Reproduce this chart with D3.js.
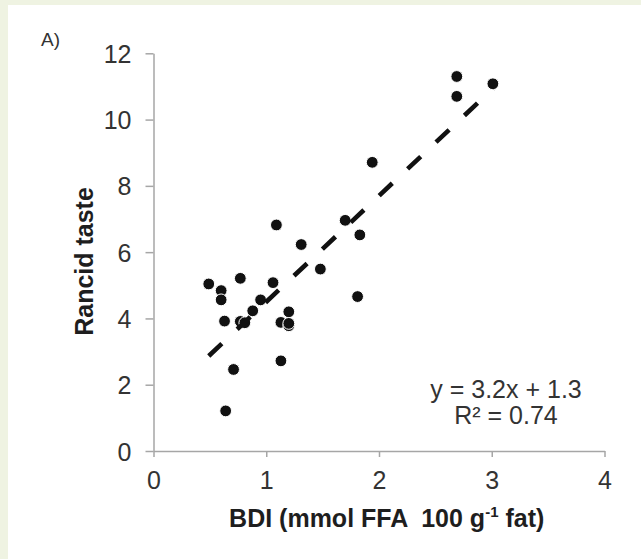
<!DOCTYPE html>
<html>
<head>
<meta charset="utf-8">
<script src="https://cdn.jsdelivr.net/npm/d3@7"></script>
<style>
  html, body { margin: 0; padding: 0; background: #eff3e2; }
  svg { display: block; }
  text { font-family: "Liberation Sans", Arial, sans-serif; }
</style>
</head>
<body>
<svg id="chart" width="641" height="559"></svg>
<script>
// ---- data ----
const bdi = [0.49, 0.60, 0.60, 0.63, 0.77, 0.77, 0.81, 0.88, 0.95, 1.06, 1.09, 1.13, 1.20, 1.20, 1.20, 1.13, 0.71, 0.64, 1.31, 1.48, 1.70, 1.83, 1.81, 1.94, 2.69, 2.69, 3.01];
const rancid = [5.04, 4.84, 4.56, 3.92, 5.21, 3.91, 3.87, 4.23, 4.56, 5.08, 6.82, 3.88, 4.20, 3.78, 3.85, 2.72, 2.46, 1.21, 6.23, 5.49, 6.96, 6.52, 4.66, 8.71, 11.30, 10.70, 11.08];
const xTicks = [0, 1, 2, 3, 4];
const yTicks = [0, 2, 4, 6, 8, 10, 12];
const slope = 3.2, intercept = 1.3;
const eqLines = ["y = 3.2x + 1.3", "R² = 0.74"];
const panelLabel = "A)";
const yTitle = "Rancid taste";

const svg = d3.select("#chart");
svg.append("rect").attr("x", 8).attr("y", 5).attr("width", 641 - 8).attr("height", 559 - 5).attr("fill", "#ffffff");

const x = d3.scaleLinear().domain([0, 4]).range([153.5, 604.5]);
const y = d3.scaleLinear().domain([0, 12]).range([451, 53.3]);

const axisColor = "#a6a6a6";
const textColor = "#333333";

// x axis
const gx = svg.append("g").attr("transform", `translate(0,${y(0)})`)
  .call(d3.axisBottom(x).tickValues(xTicks).tickSize(6).tickSizeOuter(0).tickFormat(d3.format("d")).tickPadding(14));
// y axis
const gy = svg.append("g").attr("transform", `translate(${x(0)},0)`)
  .call(d3.axisLeft(y).tickValues(yTicks).tickSize(8).tickSizeOuter(0).tickFormat(d3.format("d")).tickPadding(14));
[gx, gy].forEach(g => {
  g.select(".domain").attr("stroke", axisColor).attr("stroke-width", 1.5);
  g.selectAll(".tick line").attr("stroke", axisColor).attr("stroke-width", 1.5);
  g.selectAll(".tick text").attr("fill", textColor).attr("font-size", 25)
    .attr("font-family", "'Liberation Sans', Arial, sans-serif");
});
gx.selectAll(".tick text").attr("dy", "0.71em");
gy.selectAll(".tick text").attr("dy", "0.36em");

// points
svg.append("g").selectAll("circle").data(bdi.map((d, i) => [d, rancid[i]]))
  .join("circle")
  .attr("cx", d => x(d[0])).attr("cy", d => y(d[1]))
  .attr("r", 5.9).attr("fill", "#111").attr("stroke", "#fff").attr("stroke-width", 1);

// trend line
const xMin = d3.min(bdi), xMax = d3.max(bdi);
svg.append("line")
  .attr("x1", x(xMin)).attr("y1", y(slope * xMin + intercept))
  .attr("x2", x(xMax)).attr("y2", y(slope * xMax + intercept))
  .attr("stroke", "#111").attr("stroke-width", 4.6)
  .attr("stroke-dasharray", "18,21");

// panel label
svg.append("text").attr("x", 41).attr("y", 46).attr("font-size", 19).attr("fill", "#333").text(panelLabel);

// y title
svg.append("text").attr("transform", `translate(93,261.5) rotate(-90)`)
  .attr("text-anchor", "middle").attr("font-size", 25).attr("font-weight", "bold").attr("fill", "#1e1e1e")
  .text(yTitle);

// x title with superscript
const xt = svg.append("text").attr("x", 386.7).attr("y", 527)
  .attr("text-anchor", "middle").attr("font-size", 25).attr("font-weight", "bold").attr("fill", "#1e1e1e")
  .style("white-space", "pre");
xt.append("tspan").text("BDI (mmol FFA  100 g");
xt.append("tspan").attr("font-size", 15).attr("dy", -10).text("-1");
xt.append("tspan").attr("dy", 10).text(" fat)");

// equation
svg.append("g").selectAll("text").data(eqLines).join("text")
  .attr("x", 506).attr("y", (d, i) => 398 + i * 26)
  .attr("text-anchor", "middle").attr("font-size", 25).attr("fill", textColor)
  .text(d => d);
</script>
</body>
</html>
